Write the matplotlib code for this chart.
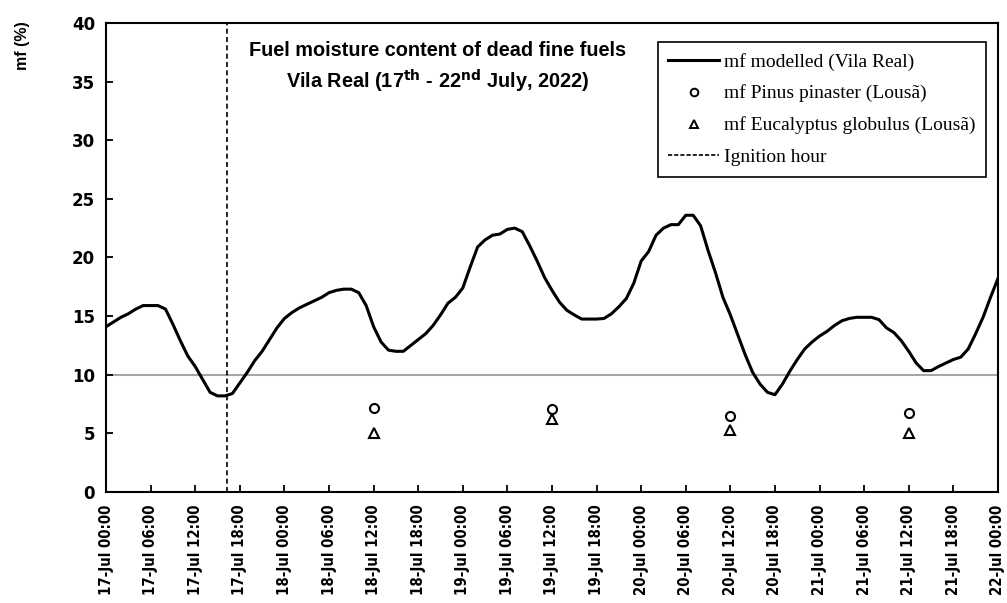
import numpy as np
import pandas as pd
import matplotlib
matplotlib.use("Agg")
import matplotlib.pyplot as plt
import matplotlib.dates as mdates
from matplotlib.lines import Line2D

# Hourly modelled fine dead fuel moisture (%), Vila Real, 17-Jul 00:00 .. 22-Jul 00:00
mf_modelled = [
    14.1, 14.5, 14.9, 15.2, 15.6, 15.9, 15.9, 15.9, 15.6, 14.3,
    12.9, 11.6, 10.7, 9.6, 8.5, 8.2, 8.2, 8.4, 9.3, 10.2,
    11.2, 12.0, 13.0, 14.0, 14.8, 15.3, 15.7, 16.0, 16.3, 16.6,
    17.0, 17.2, 17.3, 17.3, 17.0, 15.9, 14.1, 12.8, 12.1, 12.0,
    12.0, 12.5, 13.0, 13.5, 14.2, 15.1, 16.1, 16.6, 17.4, 19.2,
    20.9, 21.5, 21.9, 22.0, 22.4, 22.5, 22.2, 21.0, 19.7, 18.3,
    17.2, 16.2, 15.5, 15.1, 14.75, 14.75, 14.75, 14.8, 15.2, 15.8,
    16.5, 17.8, 19.7, 20.5, 21.9, 22.5, 22.8, 22.8, 23.6, 23.6,
    22.7, 20.6, 18.7, 16.6, 15.1, 13.4, 11.7, 10.2, 9.2, 8.5,
    8.3, 9.2, 10.3, 11.3, 12.2, 12.8, 13.3, 13.7, 14.2, 14.6,
    14.8, 14.9, 14.9, 14.9, 14.7, 14.0, 13.6, 12.9, 12.0, 11.0,
    10.35, 10.35, 10.7, 11.0, 11.3, 11.5, 12.2, 13.5, 14.9, 16.6,
    18.2,
]
start_time = "2022-07-17 00:00"
end_time = "2022-07-22 00:00"

# Field samples in Lousã (%), taken at midday
sample_times = ["2022-07-18 12:00", "2022-07-19 12:00", "2022-07-20 12:00", "2022-07-21 12:00"]
mf_pinus = [7.15, 7.05, 6.5, 6.7]
mf_eucalyptus = [5.0, 6.2, 5.3, 5.05]

ignition_time = "2022-07-17 16:20"
reference_level = 10

times = pd.date_range(start_time, periods=len(mf_modelled), freq="h")
samples = pd.to_datetime(sample_times)
ignition = pd.Timestamp(ignition_time)

fig = plt.figure(figsize=(10.07, 6.03), dpi=100)
ax = fig.add_axes([0.1053, 0.184, 0.8857, 0.778])

ax.axhline(reference_level, color="#a6a6a6", lw=1.5, zorder=1)
ax.axvline(ignition, color="black", lw=1.2, ls=(0, (3, 2)), zorder=2)
ax.plot(times, mf_modelled, color="black", lw=2.2, zorder=3)
ax.plot(samples, mf_pinus, ls="none", marker="o", ms=6.5, mfc="none",
        mec="black", mew=1.5, zorder=4)
ax.plot(samples, mf_eucalyptus, ls="none", marker="^", ms=6.5, mfc="none",
        mec="black", mew=1.5, zorder=4)

ax.set_xlim(pd.Timestamp(start_time), pd.Timestamp(end_time))
ax.set_ylim(0, 40)
ax.set_yticks(np.arange(0, 41, 5))
ax.xaxis.set_major_locator(mdates.HourLocator(byhour=[0, 6, 12, 18]))
ax.xaxis.set_major_formatter(mdates.DateFormatter("%d-%b %H:%M"))

for s in ax.spines.values():
    s.set_linewidth(1.5)
ax.tick_params(axis="both", direction="in", length=5, width=1.3)
ax.tick_params(axis="y", pad=8)
ax.tick_params(axis="x", pad=9)
for lbl in ax.get_yticklabels():
    lbl.set_fontfamily("DejaVu Sans")
    lbl.set_fontweight("bold")
    lbl.set_fontsize(12)
for lbl in ax.get_xticklabels():
    lbl.set_fontfamily("DejaVu Sans")
    lbl.set_fontweight("bold")
    lbl.set_fontstretch("condensed")
    lbl.set_fontsize(10.7)
    lbl.set_rotation(90)

fig.text(23 / 1007, 1 - 46 / 603, "mf (%)", rotation=90, ha="center", va="center",
         fontfamily="Liberation Sans", fontweight="bold", fontsize=11.5)

ax.text(0.372, 0.962,
        "Fuel moisture content of dead fine fuels\n"
        "Vila Real (17$^{\\mathbf{th}}$ - 22$^{\\mathbf{nd}}$ July, 2022)",
        transform=ax.transAxes, ha="center", va="top", fontfamily="Liberation Sans",
        fontweight="bold", fontsize=14.3, linespacing=1.38)

handles = [
    Line2D([], [], color="black", lw=2.2),
    Line2D([], [], ls="none", marker="o", ms=5.5, mfc="none", mec="black", mew=1.4),
    Line2D([], [], ls="none", marker="^", ms=5.5, mfc="none", mec="black", mew=1.4),
    Line2D([], [], color="black", lw=1.2, ls=(0, (2.5, 1.2))),
]
labels = [
    "mf modelled (Vila Real)",
    "mf Pinus pinaster (Lousã)",
    "mf Eucalyptus globulus (Lousã)",
    "Ignition hour",
]
leg = ax.legend(handles, labels, loc="upper right", bbox_to_anchor=(0.9866, 0.9595),
                prop={"family": "Liberation Serif", "size": 14}, frameon=True,
                fancybox=False, edgecolor="black", framealpha=1,
                handlelength=2.6, handletextpad=0.25, labelspacing=0.72,
                borderpad=0.55, borderaxespad=0.0)
leg.get_frame().set_linewidth(1.2)

fig.savefig("out.png", dpi=100)
